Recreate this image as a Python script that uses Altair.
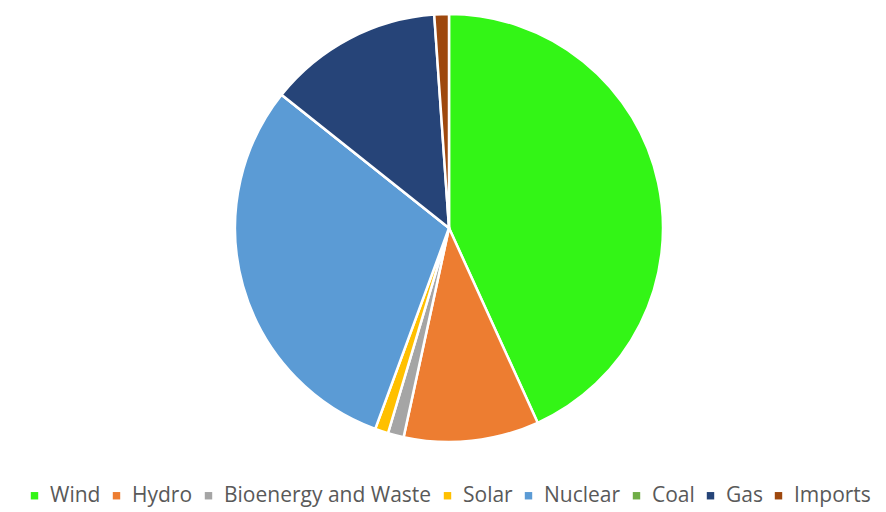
import altair as alt
import pandas as pd

sources = ["Wind", "Hydro", "Bioenergy and Waste", "Solar", "Nuclear", "Coal", "Gas", "Imports"]
shares = [43.2, 10.2, 1.2, 1.0, 30.1, 0.0, 13.2, 1.1]
colors = ["#33f516", "#ed7d31", "#a5a5a5", "#ffc000", "#5b9bd5", "#70ad47", "#264478", "#9e480e"]

df = pd.DataFrame({"source": sources, "share": shares, "idx": list(range(len(sources)))})

chart = alt.Chart(df).mark_arc(outerRadius=214, stroke="white", strokeWidth=2.5).encode(
    theta=alt.Theta("share:Q", stack=True),
    order=alt.Order("idx:Q"),
    x=alt.value(449),
    y=alt.value(228),
    color=alt.Color(
        "source:N",
        scale=alt.Scale(domain=sources, range=colors),
        sort=sources,
        legend=alt.Legend(
            title=None,
            orient="none",
            legendX=24,
            legendY=485,
            direction="horizontal",
            columns=8,
            symbolType="square",
            symbolSize=55,
            symbolStrokeWidth=0,
            labelFontSize=21,
            labelFont="Open Sans",
            labelColor="#595959",
            labelLimit=0,
            columnPadding=5,
            labelOffset=5,
        ),
    ),
).properties(
    width=886, height=512, autosize=alt.AutoSizeParams(type="none"), padding=0
).configure_view(stroke=None)

chart.save("out.html", embed_options={"renderer": "svg", "actions": False})
